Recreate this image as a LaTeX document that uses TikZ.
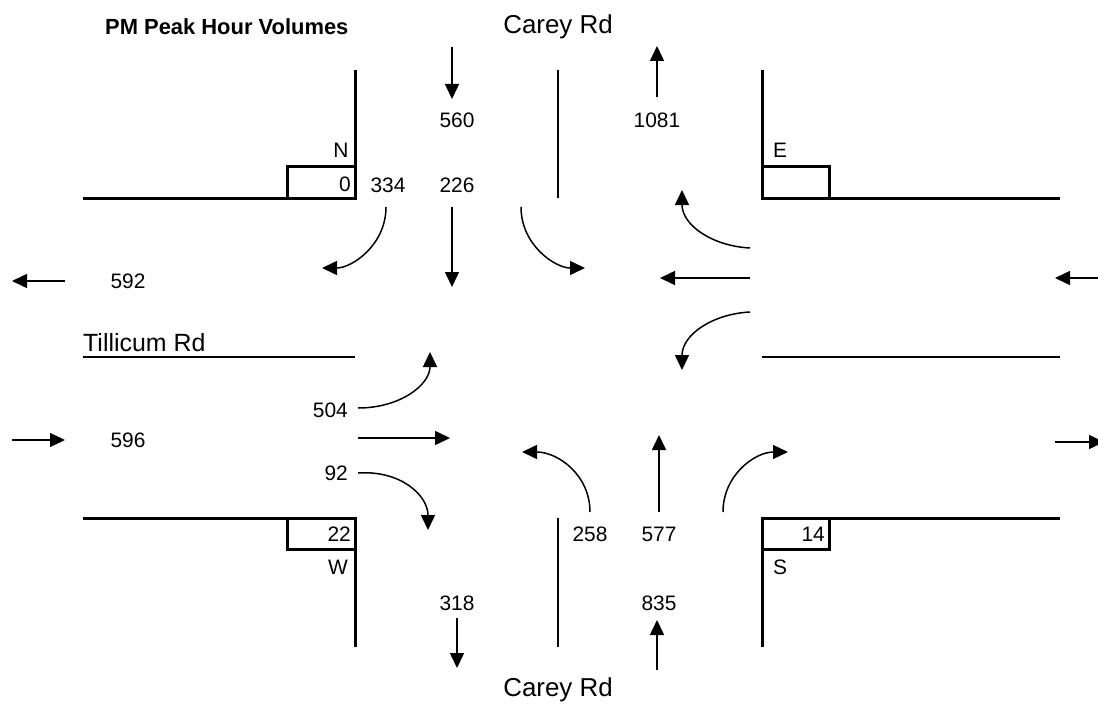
\documentclass[tikz,border=0pt]{standalone}
\usepackage{fontspec}
\setmainfont{Liberation Sans}
\usetikzlibrary{arrows.meta}

\begin{document}
\begin{tikzpicture}[x=1bp,y=-1bp,
        curb/.style={line width=3bp},
        median/.style={line width=1.2bp},
        flow/.style={line width=1.5bp,-{Triangle[length=15bp,width=14bp]}},
        vol/.style={inner sep=0pt,font=\fontsize{21}{25}\selectfont},
        road/.style={inner sep=0pt,font=\fontsize{26}{30}\selectfont}]
        \useasboundingbox(0,0)rectangle(1098,709);

        % curbs and medians
        \draw[curb](355,70)--(355,198)--(83,198);
        \draw[curb](762,70)--(762,198)--(1060,198);
        \draw[curb](83,518)--(355,518)--(355,647);
        \draw[curb](1060,518)--(762,518)--(762,647);
        \draw[curb](287,167)rectangle(355,198);
        \draw[curb](762,167)rectangle(829,198);
        \draw[curb](287,518)rectangle(355,549);
        \draw[curb](762,518)rectangle(829,549);
        \draw[median](558,70)--(558,198);
        \draw[median](558,518)--(558,647);
        \draw[median](83,357)--(355,357);
        \draw[median](762,357)--(1060,357);

        % titles and road names
        \node[inner sep=0pt,anchor=west,font=\fontsize{22}{26}\selectfont\bfseries](title)at(105,27){PM Peak Hour Volumes};
        \node[road](careyN)at(558,27){Carey Rd};
        \node[road](careyS)at(558,690){Carey Rd};
        \node[inner sep=0pt,anchor=west,font=\fontsize{25}{30}\selectfont](tillicum)at(83,343){Tillicum Rd};

        % corner letters and boxes
        \node[vol](dirN)at(341,150){N};
        \node[vol](dirE)at(780,150){E};
        \node[vol](dirW)at(338,567){W};
        \node[vol](dirS)at(780,567){S};
        \node[vol,anchor=east](boxN)at(351,184){0};
        \node[vol,anchor=east](boxW)at(351,534){22};
        \node[vol,anchor=east](boxS)at(825,534){14};

        % volumes
        \node[vol](inN)at(457,120){560};
        \node[vol](outN)at(657,120){1081};
        \node[vol](sbR)at(388,185){334};
        \node[vol](sbT)at(457,185){226};
        \node[vol](outW)at(128,281){592};
        \node[vol](inW)at(128,440){596};
        \node[vol,anchor=east](ebL)at(348,410){504};
        \node[vol,anchor=east](ebR)at(348,473){92};
        \node[vol](nbL)at(590,534){258};
        \node[vol](nbT)at(659,534){577};
        \node[vol](outS)at(457,603){318};
        \node[vol](inS)at(659,603){835};

        % approach arrows
        \draw[flow](452,47)--(452,99);
        \draw[flow](657,97)--(657,46);
        \draw[flow](65,281)--(12,281);
        \draw[flow](12,440)--(65,440);
        \draw[flow](1098,278)--(1055,278);
        \draw[flow](1055,442)--(1104,442);
        \draw[flow](457,618)--(457,668);
        \draw[flow](657,670)--(657,620);

        % southbound
        \draw[flow](386,207)..controls(386,245)and(352,268)..(322,268);
        \draw[flow](452,207)--(452,287);
        \draw[flow](521,207)..controls(521,245)and(555,268)..(585,268);
        % westbound
        \draw[flow](750,248)..controls(712,246)and(682,225)..(682,190);
        \draw[flow](750,278)--(660,278);
        \draw[flow](750,312)..controls(712,314)and(682,335)..(682,370);
        % northbound
        \draw[flow](590,512)..controls(590,475)and(558,452)..(522,452);
        \draw[flow](659,512)--(659,435);
        \draw[flow](723,512)..controls(723,475)and(755,452)..(788,452);
        % eastbound
        \draw[flow](358,408)..controls(400,408)and(430,385)..(430,352);
        \draw[flow](358,438)--(450,438);
        \draw[flow](358,473)..controls(400,470)and(428,495)..(428,530);
    \end{tikzpicture}
\end{document}
